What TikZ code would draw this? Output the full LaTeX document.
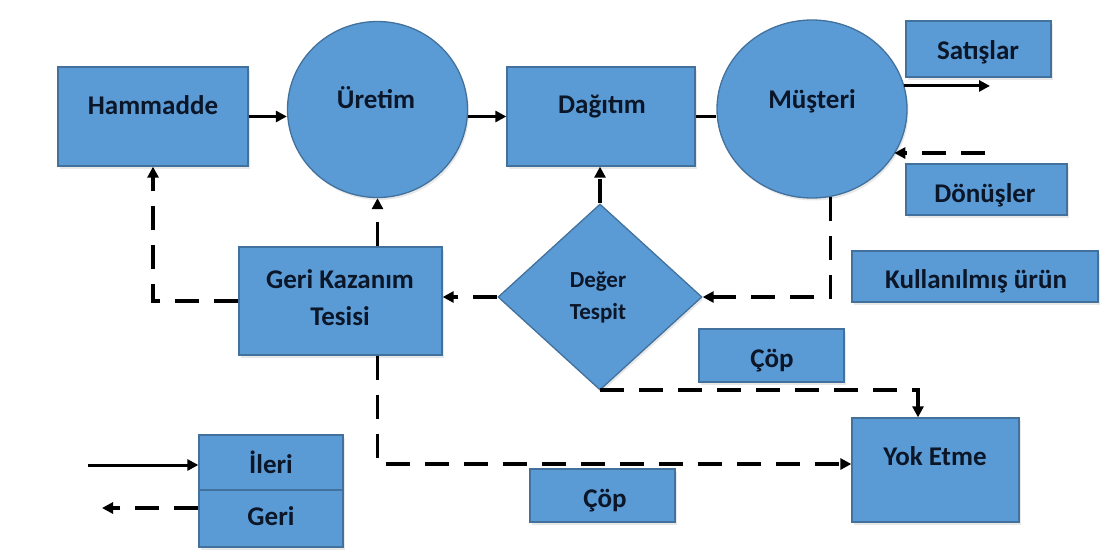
\documentclass[tikz,border=0pt]{standalone}
\usepackage{fontspec}
\setmainfont{Carlito}
\usetikzlibrary{shapes.geometric,arrows.meta,shadows}
\definecolor{boxfill}{HTML}{5B9BD5}
\definecolor{boxline}{HTML}{41719C}
\definecolor{ink}{HTML}{0B1628}
\begin{document}
\begin{tikzpicture}[x=1pt,y=-1pt,
  shape base/.style={fill=boxfill, draw=boxline, line width=1.3pt, inner sep=0pt,
    drop shadow={shadow xshift=1.5pt, shadow yshift=-2.5pt, opacity=0.18}},
  box/.style={shape base, rectangle},
  round/.style={shape base, ellipse},
  decision/.style={shape base, diamond},
  txt/.style={font=\bfseries\fontsize{27}{32}\selectfont, text=ink, inner sep=0pt, anchor=base},
  smalltxt/.style={font=\bfseries\fontsize{23}{32}\selectfont, text=ink, inner sep=0pt, align=center},
  fwd/.style={line width=3pt, draw=black, -{Triangle[length=11pt,width=11pt]}},
  plainline/.style={line width=3pt, draw=black},
  bwd/.style={line width=3.5pt, draw=black, dash pattern=on 24pt off 15pt,
    -{Triangle[length=11pt,width=11pt]}}
]
\useasboundingbox (0,0) rectangle (1107,557);

% forward chain
\node[box, minimum width=190pt, minimum height=99pt] (ham) at (153,116.5) {};
\node[round, minimum width=180pt, minimum height=176pt] (ure) at (377.5,109.5) {};
\node[box, minimum width=188pt, minimum height=99pt] (dag) at (601,116.5) {};
\node[round, minimum width=190pt, minimum height=178pt] (mus) at (812,109) {};

% side labels
\node[box, minimum width=145pt, minimum height=56pt] (sat) at (978.5,49) {};
\node[box, minimum width=161pt, minimum height=51pt] (don) at (986.5,189.5) {};
\node[box, minimum width=246pt, minimum height=51pt] (kul) at (975,276.5) {};
\node[box, minimum width=145pt, minimum height=53pt] (cop1) at (771.5,355.5) {};
\node[box, minimum width=145pt, minimum height=53pt] (cop2) at (602.5,495.5) {};

% reverse chain
\node[decision, minimum width=204pt, minimum height=186pt] (dia) at (600,297) {};
\node[box, minimum width=203pt, minimum height=108pt] (gkt) at (340.5,301) {};
\node[box, minimum width=167pt, minimum height=104pt] (yok) at (935.5,470) {};

% legend
\node[box, minimum width=144pt, minimum height=55pt] (ileri) at (271,462.5) {};
\node[box, minimum width=144pt, minimum height=57pt] (geri) at (271,518.5) {};

% connectors
\coordinate (satTip) at (990,87);
\coordinate (donTail) at (985,153);
\coordinate (ileriTail) at (88,465);
\coordinate (geriTip) at (102,508);
\coordinate (wasteTurn) at (918,389.5);

\draw[fwd] (ham.east) -- (ham.east -| ure.west);
\draw[fwd] (dag.west -| ure.east) -- (dag.west);
\draw[plainline] (dag.east) -- (dag.east -| mus.west);
\draw[fwd] (mus.14) -- (mus.14 -| satTip);
\draw[bwd] (donTail) -- (donTail -| mus.331);
\draw[bwd] (mus.282) |- (dia.east);
\draw[bwd] (dia.north) -- (dia.north |- dag.south);
\draw[bwd] (dia.west) -- (dia.west -| gkt.east);
\draw[bwd] (gkt.west) -| (ham.south);
\draw[bwd] (ure.south |- gkt.north) -- (ure.south);
\draw[bwd] (ure.south |- gkt.south) |- ([yshift=6pt]yok.west);
\draw[bwd, line width=4pt] (wasteTurn -| dia.south) -- (wasteTurn) -- (wasteTurn |- yok.north);
\draw[fwd] (ileriTail) -- (ileriTail -| ileri.west);
\draw[bwd] (geriTip -| geri.west) -- (geriTip);

% texts
\node[txt] (hamT) at (153,114) {Hammadde};
\node[txt] (ureT) at (376,108) {Üretim};
\node[txt] (dagT) at (602,113) {Dağıtım};
\node[txt] (musT) at (812,108) {Müşteri};
\node[txt] (satT) at (978,59) {Satışlar};
\node[txt] (donT) at (985,202) {Dönüşler};
\node[txt] (kulT) at (976,288) {Kullanılmış ürün};
\node[txt, anchor=center, align=center, font=\bfseries\fontsize{27}{37}\selectfont] (gktT) at (340,298) {Geri Kazanım\\Tesisi};
\node[smalltxt] (diaT) at (598,297) {Değer\\Tespit};
\node[txt] (cop1T) at (772,367) {Çöp};
\node[txt] (cop2T) at (605,507) {Çöp};
\node[txt] (yokT) at (935,465) {Yok Etme};
\node[txt] (ileriT) at (271,473) {İleri};
\node[txt] (geriT) at (271,525) {Geri};
\end{tikzpicture}
\end{document}
